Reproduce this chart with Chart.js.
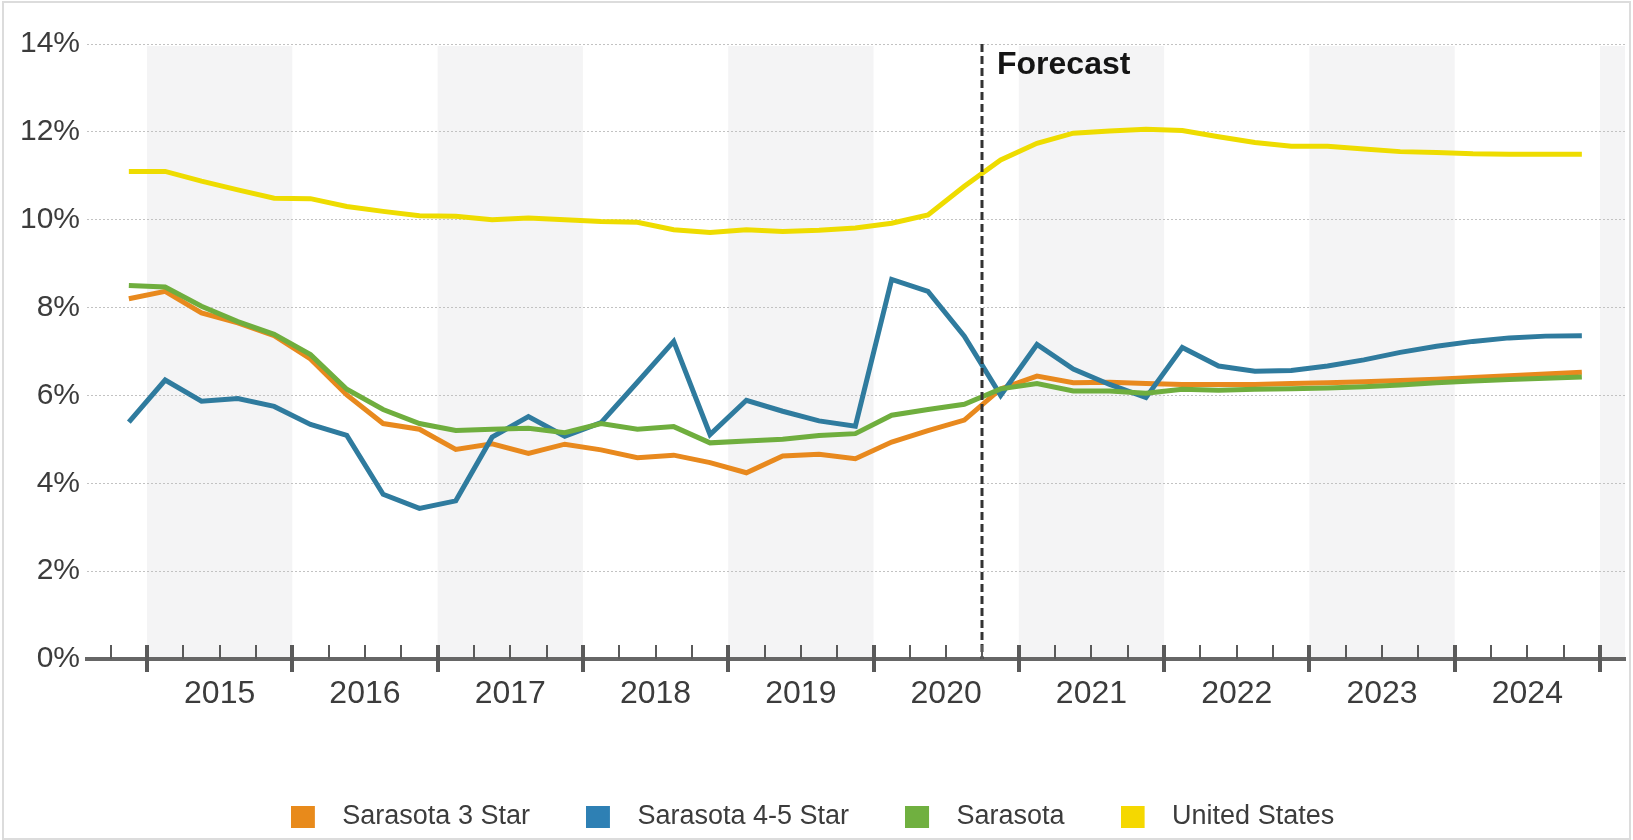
<!DOCTYPE html>
<html>
<head>
<meta charset="utf-8">
<title>Sarasota vacancy rate</title>
<script src="https://cdn.jsdelivr.net/npm/chart.js@4.4.1/dist/chart.umd.min.js"></script>
<style>
    html, body { margin: 0; padding: 0; background: #fff; }
    #wrap { position: relative; width: 1633px; height: 840px; }
    #frame { position: absolute; left: 2px; top: 1px; right: 2px; bottom: 0; border: 2px solid #dcdcdc; pointer-events: none; }
</style>
</head>
<body>
<div id="wrap">
    <canvas id="myChart"></canvas>
    <div id="frame"></div>
</div>
<script>

// quarterly periods, 2014 Q4 .. 2024 Q4
var quarters = [
    '2014 Q4',
    '2015 Q1', '2015 Q2', '2015 Q3', '2015 Q4',
    '2016 Q1', '2016 Q2', '2016 Q3', '2016 Q4',
    '2017 Q1', '2017 Q2', '2017 Q3', '2017 Q4',
    '2018 Q1', '2018 Q2', '2018 Q3', '2018 Q4',
    '2019 Q1', '2019 Q2', '2019 Q3', '2019 Q4',
    '2020 Q1', '2020 Q2', '2020 Q3', '2020 Q4',
    '2021 Q1', '2021 Q2', '2021 Q3', '2021 Q4',
    '2022 Q1', '2022 Q2', '2022 Q3', '2022 Q4',
    '2023 Q1', '2023 Q2', '2023 Q3', '2023 Q4',
    '2024 Q1', '2024 Q2', '2024 Q3', '2024 Q4'
];

var sarasota3Star = [8.2, 8.37, 7.88, 7.65, 7.36, 6.83, 6.01, 5.36, 5.23, 4.77, 4.9, 4.68, 4.89, 4.76, 4.58, 4.64, 4.47, 4.24, 4.62, 4.66, 4.56, 4.94, 5.2, 5.44, 6.15, 6.44, 6.29, 6.3, 6.27, 6.25, 6.25, 6.25, 6.27, 6.29, 6.31, 6.34, 6.37, 6.41, 6.45, 6.49, 6.53];
var sarasota45Star = [5.39, 6.35, 5.87, 5.93, 5.75, 5.34, 5.09, 3.75, 3.43, 3.6, 5.05, 5.52, 5.07, 5.38, 6.3, 7.23, 5.11, 5.89, 5.64, 5.42, 5.3, 8.64, 8.37, 7.35, 6.0, 7.16, 6.6, 6.25, 5.95, 7.09, 6.67, 6.55, 6.57, 6.67, 6.81, 6.98, 7.12, 7.23, 7.31, 7.35, 7.36];
var sarasota = [8.5, 8.47, 8.03, 7.68, 7.39, 6.93, 6.14, 5.68, 5.36, 5.2, 5.23, 5.25, 5.15, 5.36, 5.23, 5.29, 4.92, 4.96, 5.0, 5.09, 5.13, 5.55, 5.68, 5.8, 6.15, 6.27, 6.1, 6.1, 6.05, 6.14, 6.12, 6.14, 6.15, 6.17, 6.2, 6.24, 6.29, 6.33, 6.36, 6.39, 6.42];
var unitedStates = [11.1, 11.1, 10.88, 10.68, 10.49, 10.48, 10.3, 10.19, 10.09, 10.08, 10.0, 10.04, 10.0, 9.96, 9.94, 9.77, 9.71, 9.77, 9.73, 9.76, 9.81, 9.92, 10.11, 10.76, 11.36, 11.74, 11.97, 12.02, 12.06, 12.03, 11.89, 11.76, 11.67, 11.67, 11.61, 11.55, 11.53, 11.5, 11.49, 11.49, 11.49];

var seriesNames = ['Sarasota 3 Star', 'Sarasota 4-5 Star', 'Sarasota', 'United States'];
var lineColors = ['#e8891e', '#2f7b9e', '#6fae3e', '#eedc00'];
var legendColors = ['#e88a1b', '#2e80b4', '#70b040', '#f5d800'];

var yearLabels = ['2015', '2016', '2017', '2018', '2019', '2020', '2021', '2022', '2023', '2024'];
var shadedYears = [2015, 2017, 2019, 2021, 2023, 2025];
var yTicks = [0, 2, 4, 6, 8, 10, 12, 14];
var forecastStart = '2020 Q4';

var xMin = 2014.587;
var xMax = 2025.172;

var font = "'Liberation Sans', Arial, sans-serif";
var textColor = '#3c3c3c';

// '2015 Q2' -> middle of the quarter as decimal year
function quarterMid(q) {
    var p = q.split(' Q');
    return parseInt(p[0]) + (parseInt(p[1]) - 0.5) / 4;
}
function quarterStart(q) {
    var p = q.split(' Q');
    return parseInt(p[0]) + (parseInt(p[1]) - 1) / 4;
}

function toPoints(values) {
    return values.map(function (v, i) { return {x: quarterMid(quarters[i]), y: v}; });
}

// legend marker: square on the left, empty space after it
function legendSwatch(color) {
    var c = document.createElement('canvas');
    c.width = 38;
    c.height = 22;
    var g = c.getContext('2d');
    g.fillStyle = color;
    g.fillRect(0, 0, 24, 22);
    return c;
}

var decor = {
    id: 'decor',
    beforeDraw: function (chart) {
        var ctx = chart.ctx, a = chart.chartArea, x = chart.scales.x;
        ctx.save();
        ctx.fillStyle = '#f4f4f5';
        shadedYears.forEach(function (yr) {
            var l = Math.max(x.getPixelForValue(yr), a.left);
            var r = Math.min(x.getPixelForValue(yr + 1), a.right);
            if (r > l) ctx.fillRect(l, a.top + 2, r - l, a.bottom - a.top - 2);
        });
        ctx.restore();
    },
    afterDatasetsDraw: function (chart) {
        var ctx = chart.ctx, a = chart.chartArea, x = chart.scales.x;
        var fx = Math.round(x.getPixelForValue(quarterStart(forecastStart)));
        ctx.save();
        ctx.strokeStyle = '#333';
        ctx.lineWidth = 3;
        ctx.setLineDash([8, 4]);
        ctx.beginPath();
        ctx.moveTo(fx, a.top);
        ctx.lineTo(fx, a.bottom);
        ctx.stroke();
        ctx.setLineDash([]);
        ctx.fillStyle = '#151515';
        ctx.font = 'bold 32px ' + font;
        ctx.textBaseline = 'alphabetic';
        ctx.fillText('Forecast', fx + 15, a.top + 30);
        ctx.restore();
    },
    afterDraw: function (chart) {
        var ctx = chart.ctx, a = chart.chartArea, x = chart.scales.x;
        ctx.save();
        ctx.strokeStyle = '#5a5a5a';
        for (var v = Math.ceil(x.min * 4) / 4; v <= x.max; v += 0.25) {
            var px = Math.round(x.getPixelForValue(v));
            var major = Math.abs(v - Math.round(v)) < 1e-6;
            ctx.lineWidth = major ? 4 : 2;
            ctx.beginPath();
            ctx.moveTo(px, a.bottom - 14);
            ctx.lineTo(px, major ? a.bottom + 13 : a.bottom);
            ctx.stroke();
        }
        ctx.restore();
    }
};

var ctx = document.getElementById('myChart');

var datasets = [sarasota3Star, sarasota45Star, sarasota, unitedStates].map(function (values, i) {
    return {
        label: seriesNames[i],
        data: toPoints(values),
        borderColor: lineColors[i],
        backgroundColor: legendColors[i],
        borderWidth: 5,
        pointRadius: 0,
        tension: 0,
        order: [2, 1, 0, 3][i]
    };
});

var chart = new Chart(ctx, {
    type: 'line',
    data: {datasets: datasets},
    plugins: [decor],
    options: {
        responsive: true,
        maintainAspectRatio: false,
        animation: false,
        layout: {padding: {top: 44, right: 8, left: 0, bottom: 0}},
        plugins: {
            tooltip: {enabled: false},
            legend: {
                position: 'bottom',
                labels: {
                    font: {family: font, size: 27},
                    color: textColor,
                    usePointStyle: true,
                    pointStyleWidth: 38,
                    boxHeight: 22,
                    padding: 56,
                    generateLabels: function (chart) {
                        return chart.data.datasets.map(function (ds, i) {
                            return {
                                text: ds.label,
                                fillStyle: legendColors[i],
                                strokeStyle: legendColors[i],
                                lineWidth: 0,
                                pointStyle: legendSwatch(legendColors[i]),
                                fontColor: textColor,
                                hidden: false,
                                datasetIndex: i
                            };
                        });
                    }
                }
            }
        },
        scales: {
            x: {
                type: 'linear',
                min: xMin,
                max: xMax,
                grid: {display: true, drawOnChartArea: false, drawTicks: false},
                border: {display: true, color: '#666', width: 4},
                afterBuildTicks: function (scale) {
                    scale.ticks = yearLabels.map(function (y) { return {value: parseInt(y) + 0.5}; });
                },
                afterFit: function (scale) { scale.height = 88; },
                ticks: {
                    autoSkip: false,
                    maxRotation: 0,
                    padding: 16,
                    color: textColor,
                    font: {family: font, size: 32},
                    callback: function (value, index) { return yearLabels[index]; }
                }
            },
            y: {
                min: 0,
                max: 14,
                afterBuildTicks: function (scale) {
                    scale.ticks = yTicks.map(function (v) { return {value: v}; });
                },
                afterFit: function (scale) { scale.width = 87; },
                grid: {color: '#c2c2c2', lineWidth: 1, drawTicks: false},
                border: {display: false, dash: [2, 2]},
                ticks: {
                    padding: 7,
                    color: textColor,
                    font: {family: font, size: 30},
                    callback: function (value) { return value + '%'; }
                }
            }
        }
    }
});

</script>
</body>
</html>
